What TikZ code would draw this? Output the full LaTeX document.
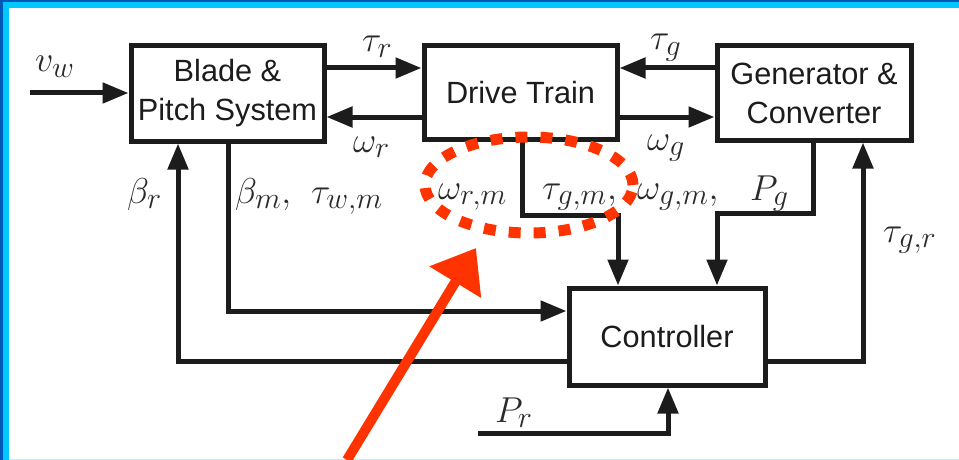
\RequirePackage{fix-cm}
\documentclass[tikz,border=0pt]{standalone}
\usepackage{fontspec}
\setmainfont{Liberation Sans}
\usetikzlibrary{arrows.meta}
\DeclareMathSizes{36}{36}{30}{22}
\definecolor{ink}{HTML}{1C1C1C}
\definecolor{labink}{HTML}{2A2A2A}
\definecolor{redmark}{HTML}{FF3300}
\definecolor{frameblue}{HTML}{0057B8}
\definecolor{framecyan}{HTML}{00C8FF}
\definecolor{framelight}{HTML}{C4F1FF}
\begin{document}
\begin{tikzpicture}[x=1pt,y=-1pt,
  blockbox/.style={draw=ink, line width=5pt, inner sep=0pt, align=center,
    font=\fontsize{30.7}{39}\selectfont, text=ink},
  sig/.style={draw=ink, line width=5pt, line join=miter,
    -{Triangle[length=26pt,width=20pt]}},
  lab/.style={anchor=base west, inner sep=0pt, font=\fontsize{36}{40}\selectfont, text=labink},
  redline/.style={draw=redmark, line width=11pt}]
\useasboundingbox (0,0) rectangle (959,460);
\fill[white] (0,0) rectangle (959,460);
% frame
\fill[frameblue] (0,0) rectangle (959,2.5);
\fill[frameblue] (0,0) rectangle (3,460);
\fill[framecyan] (3,2.5) rectangle (959,8);
\fill[framecyan] (3,2.5) rectangle (9,460);
\fill[framelight] (9,458.5) rectangle (959,460);
% blocks
\node[blockbox, minimum width=193pt, minimum height=95pt] (blade) at (227.5,93.5) {Blade \&\\Pitch System};
\node[blockbox, minimum width=193pt, minimum height=93pt] (drive) at (520.5,92.5) {Drive Train};
\node[blockbox, minimum width=194pt, minimum height=94pt] (gen) at (814,93) {Generator \&\\Converter};
\node[blockbox, minimum width=196pt, minimum height=97pt] (ctrl) at (667,336.5) {Controller};
% helper coordinates
\coordinate (vin) at (30,93);
\coordinate (ytop) at (0,68);
\coordinate (ybot) at (0,117);
\coordinate (xbr) at (178,0);
\coordinate (xbm) at (228,0);
\coordinate (ybr) at (0,361);
\coordinate (ybm) at (0,311);
\coordinate (xdt) at (522,0);
\coordinate (kdt) at (618,215);
\coordinate (xgc) at (813,0);
\coordinate (kgc) at (717,213);
\coordinate (xgr) at (863,0);
\coordinate (prin) at (478,433);
\coordinate (xpr) at (668,0);
% connectors
\draw[sig] (vin) -- (vin -| blade.west);
\draw[sig] (blade.east |- ytop) -- (drive.west |- ytop);
\draw[sig] (drive.west |- ybot) -- (blade.east |- ybot);
\draw[sig] (gen.west |- ytop) -- (drive.east |- ytop);
\draw[sig] (drive.east |- ybot) -- (gen.west |- ybot);
\draw[sig] (ctrl.west |- ybr) -| (blade.south -| xbr);
\draw[sig] (blade.south -| xbm) |- (ctrl.west |- ybm);
\draw[sig] (drive.south -| xdt) |- (kdt) -- (ctrl.north -| kdt);
\draw[sig] (gen.south -| xgc) |- (kgc) -- (ctrl.north -| kgc);
\draw[sig] (ctrl.east |- ybr) -| (gen.south -| xgr);
\draw[sig] (prin) -| (ctrl.south -| xpr);
% labels
\node[lab] (lvw) at (35,72) {$v_w$};
\node[lab] (ltr) at (362,52) {$\tau_r$};
\node[lab] (lwr) at (353,152) {$\omega_r$};
\node[lab] (ltg) at (650,50) {$\tau_g$};
\node[lab] (lwg) at (647,150) {$\omega_g$};
\node[lab] (lbr) at (127,203) {$\beta_r$};
\node[lab] (lbm) at (235,203) {$\beta_m,\hspace{14pt}\tau_{w,m}$};
\node[lab] (lwrm) at (438,199) {$\omega_{r,m}$};
\node[lab] (ltgm) at (542,199) {$\tau_{g,m},$};
\node[lab] (lwgm) at (637,199) {$\omega_{g,m},$};
\node[lab] (lpg) at (750,200) {$P_g$};
\node[lab] (ltgr) at (883,242) {$\tau_{g,r}$};
\node[lab] (lpr) at (495,422) {$P_r$};
% red highlight
\coordinate (ellc) at (529,185);
\draw[redline, dash pattern=on 12pt off 13pt] (ellc) ellipse [x radius=104pt, y radius=48pt];
\coordinate (rtail) at (347,460);
\coordinate (rtip) at (476,248);
\draw[draw=redmark, line width=10pt, -{Triangle[length=40pt,width=58pt]}, fill=redmark] (rtail) -- (rtip);
\end{tikzpicture}
\end{document}
